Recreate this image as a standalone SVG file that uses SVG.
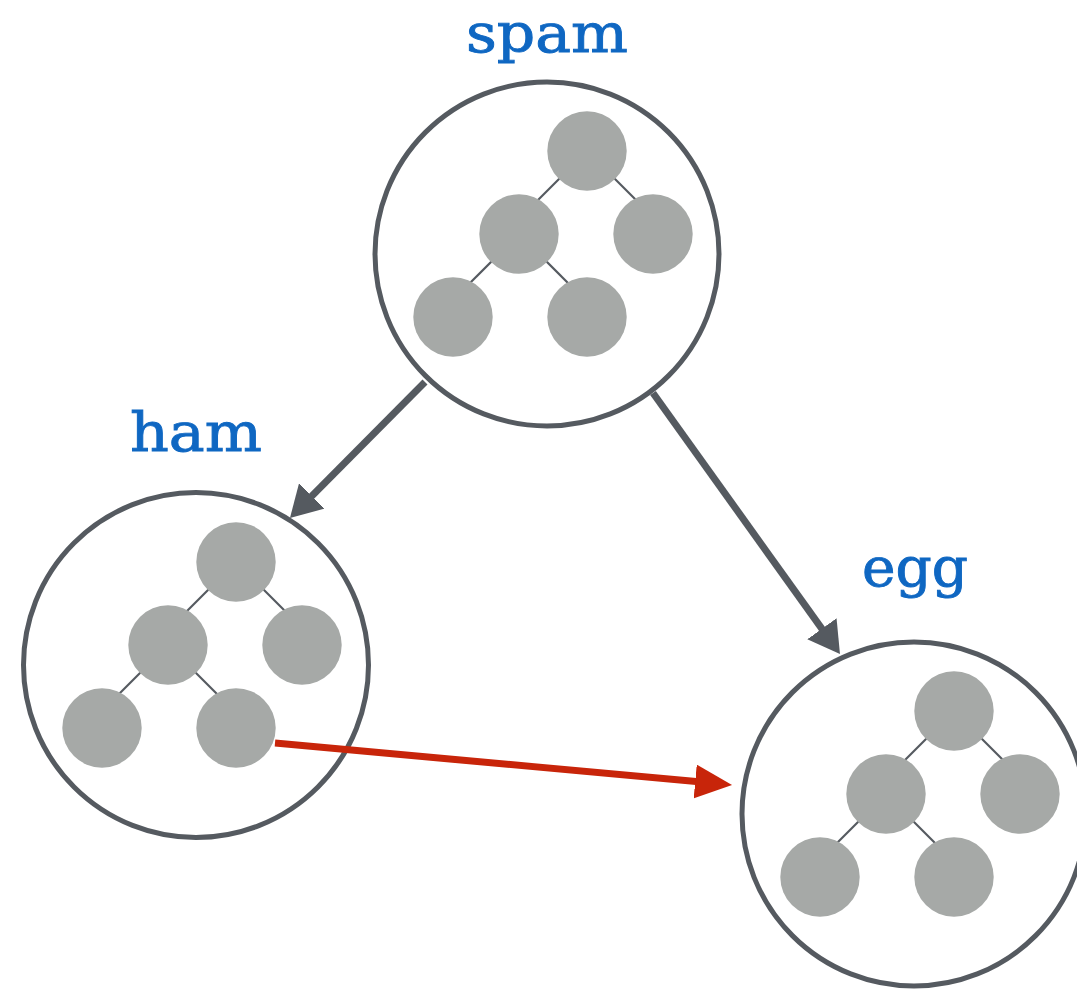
<svg xmlns="http://www.w3.org/2000/svg" width="1077" height="990" viewBox="0 0 1077 990">
  <defs>
    <style>
      .frame { fill: #ffffff; stroke: #555a60; stroke-width: 5; }
      .leaf { fill: #a6a9a7; }
      .edge { stroke: #555a60; stroke-width: 2.2; }
      .label { font-family: "DejaVu Serif", serif; font-size: 55px; fill: #0f67c2; stroke: #0f67c2; stroke-width: 0.9; text-anchor: middle; }
      .link { stroke: #555a60; stroke-width: 7; fill: none; }
      .cross { stroke: #c8250a; stroke-width: 7; fill: none; }
    </style>
    <!-- small binary tree drawn inside every package circle; edges leave each parent at 45 degrees -->
    <g id="tree">
      <line class="edge" x1="40" y1="-103" x2="-10" y2="-53"/>
      <line class="edge" x1="40" y1="-103" x2="90" y2="-53"/>
      <line class="edge" x1="-28" y1="-20" x2="-78" y2="30"/>
      <line class="edge" x1="-28" y1="-20" x2="22" y2="30"/>
      <circle class="leaf" cx="40" cy="-103" r="39.7"/>
      <circle class="leaf" cx="-28" cy="-20" r="39.7"/>
      <circle class="leaf" cx="106" cy="-20" r="39.7"/>
      <circle class="leaf" cx="-94" cy="63" r="39.7"/>
      <circle class="leaf" cx="40" cy="63" r="39.7"/>
    </g>
    <marker id="head-gray" viewBox="0 0 31 36" markerUnits="userSpaceOnUse" markerWidth="31" markerHeight="36" refX="1" refY="18" orient="auto">
      <path d="M0,0 L31,18 L0,36 z" fill="#555a60"/>
    </marker>
    <marker id="head-red" viewBox="0 0 37 34" markerUnits="userSpaceOnUse" markerWidth="37" markerHeight="34" refX="1" refY="17" orient="auto">
      <path d="M0,0 L37,17 L0,34 z" fill="#c8250a"/>
    </marker>
  </defs>

  <rect width="1077" height="990" fill="#ffffff"/>

  <g id="spam">
    <circle class="frame" cx="547" cy="254" r="172"/>
    <use href="#tree" x="547" y="254"/>
    <text class="label" x="547" y="52" textLength="162" lengthAdjust="spacingAndGlyphs">spam</text>
  </g>

  <g id="ham">
    <circle class="frame" cx="196" cy="665" r="172.5"/>
    <use href="#tree" x="196" y="665"/>
    <text class="label" x="196" y="451" textLength="132" lengthAdjust="spacingAndGlyphs">ham</text>
  </g>

  <g id="egg">
    <circle class="frame" cx="914" cy="814" r="172"/>
    <use href="#tree" x="914" y="814"/>
    <text class="label" x="915" y="586" textLength="106" lengthAdjust="spacingAndGlyphs">egg</text>
  </g>

  <g id="connectors">
    <line class="link" x1="425" y1="382" x2="311.1" y2="496.7" marker-end="url(#head-gray)"/>
    <line class="link" x1="653" y1="393" x2="822.5" y2="629.6" marker-end="url(#head-gray)"/>
    <line class="cross" x1="275" y1="743" x2="696.2" y2="781.6" marker-end="url(#head-red)"/>
  </g>
</svg>
